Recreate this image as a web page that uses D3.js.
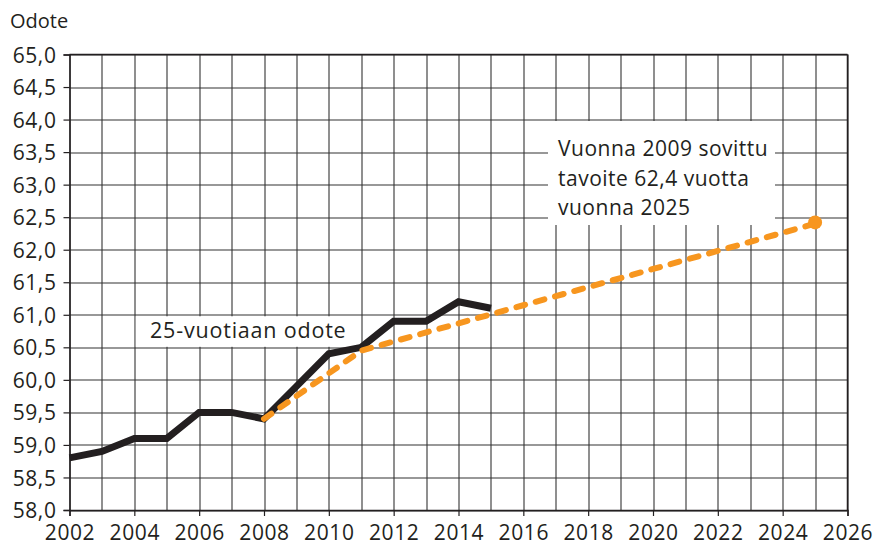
<!DOCTYPE html>
<html>
<head>
<meta charset="utf-8">
<script src="https://cdn.jsdelivr.net/npm/d3@7"></script>
<style>
  body { margin: 0; background: #fff; }
  text { font-family: "Open Sans", sans-serif; fill: #231f20; }
</style>
</head>
<body>
<svg id="chart"></svg>
<script>
// 25-vuotiaan odote (toteutunut)
var years = [2002, 2003, 2004, 2005, 2006, 2007, 2008, 2009, 2010, 2011, 2012, 2013, 2014, 2015];
var odote = [58.8, 58.9, 59.1, 59.1, 59.5, 59.5, 59.4, 59.9, 60.4, 60.5, 60.9, 60.9, 61.2, 61.1];

// tavoiteura
var targetYears = [2008, 2011, 2025];
var targetValues = [59.4, 60.45, 62.4];

var yTicks = d3.range(58, 65.01, 0.5);
var xTicks = d3.range(2002, 2027, 2);
var gridYears = d3.range(2002, 2027, 1);

var svgWidth = 881, svgHeight = 547;
var margin = { top: 54.5, right: 33.5, bottom: 37, left: 69.5 };
var width = svgWidth - margin.left - margin.right;
var height = svgHeight - margin.top - margin.bottom;

var svg = d3.select("#chart")
    .attr("width", svgWidth)
    .attr("height", svgHeight);

var g = svg.append("g")
    .attr("transform", "translate(" + margin.left + "," + margin.top + ")");

var x = d3.scaleLinear().domain([2002, 2026]).range([0, width]);
var y = d3.scaleLinear().domain([58, 65]).range([height, 0]);

var fmt = function(d) { return d3.format(".1f")(d).replace(".", ","); };

// grid
g.append("g").selectAll("line")
    .data(gridYears)
    .enter().append("line")
    .attr("x1", function(d) { return Math.round(x(d)) + 0.5; })
    .attr("x2", function(d) { return Math.round(x(d)) + 0.5; })
    .attr("y1", 0).attr("y2", height)
    .attr("stroke", "#333").attr("stroke-width", 1.1);

g.append("g").selectAll("line")
    .data(yTicks)
    .enter().append("line")
    .attr("x1", 0).attr("x2", width)
    .attr("y1", function(d) { return Math.round(y(d)) + 0.5; })
    .attr("y2", function(d) { return Math.round(y(d)) + 0.5; })
    .attr("stroke", "#333").attr("stroke-width", 1.1);

// label backgrounds (cover the grid)
g.append("rect")
    .attr("x", x(2004) + 1.5).attr("y", y(61) + 1.5)
    .attr("width", 220).attr("height", y(60.5) - y(61) - 2)
    .attr("fill", "#fff");

g.append("rect")
    .attr("x", 548 - margin.left).attr("y", 121 - margin.top)
    .attr("width", 227).attr("height", 104)
    .attr("fill", "#fff");

// axes
var yAxis = g.append("g")
    .call(d3.axisLeft(y).tickValues(yTicks).tickSize(6).tickFormat(fmt));
var xAxis = g.append("g")
    .attr("transform", "translate(0," + height + ")")
    .call(d3.axisBottom(x).tickValues(xTicks).tickSize(6).tickFormat(d3.format("d")));

[yAxis, xAxis].forEach(function(a) {
    a.select(".domain").attr("stroke", "#231f20").attr("stroke-width", 1.5);
    a.selectAll(".tick line").attr("stroke", "#231f20").attr("stroke-width", 1.2);
    a.selectAll("text").attr("font-size", 21).attr("font-family", "Open Sans, sans-serif")
        .attr("fill", "#231f20").style("letter-spacing", "0.6px");
});
yAxis.selectAll("text").attr("x", -13).attr("dy", "0.36em");
xAxis.selectAll("text").attr("y", 13).attr("dy", "0.8em");

// top and right frame
g.append("line").attr("x1", 0).attr("x2", width).attr("y1", 0).attr("y2", 0)
    .attr("stroke", "#231f20").attr("stroke-width", 1.5);
g.append("line").attr("x1", width).attr("x2", width).attr("y1", 0).attr("y2", height)
    .attr("stroke", "#231f20").attr("stroke-width", 1.5);

// odote line
var line = d3.line()
    .x(function(d) { return x(d[0]); })
    .y(function(d) { return y(d[1]); });

g.append("path")
    .datum(d3.zip(years, odote))
    .attr("fill", "none")
    .attr("stroke", "#231f20")
    .attr("stroke-width", 7)
    .attr("stroke-linejoin", "miter")
    .attr("d", line);

// target line
var targetData = d3.zip(targetYears, targetValues);
g.append("path")
    .datum(targetData)
    .attr("fill", "none")
    .attr("stroke", "#f7961f")
    .attr("stroke-width", 6)
    .attr("stroke-dasharray", "9,11")
    .attr("stroke-linecap", "round")
    .attr("d", line);

g.append("circle")
    .attr("cx", x(2025)).attr("cy", y(62.42))
    .attr("r", 7)
    .attr("fill", "#f7961f");

// texts
svg.append("text")
    .attr("x", 10).attr("y", 28)
    .attr("font-size", 20)
    .text("Odote");

g.append("text")
    .attr("x", 150 - margin.left).attr("y", 338 - margin.top)
    .attr("font-size", 21.5)
    .style("letter-spacing", "0.8px")
    .text("25-vuotiaan odote");

var note = ["Vuonna 2009 sovittu", "tavoite 62,4 vuotta", "vuonna 2025"];
g.append("g").selectAll("text")
    .data(note)
    .enter().append("text")
    .attr("x", 558 - margin.left)
    .attr("y", function(d, i) { return 156 - margin.top + i * 29.5; })
    .attr("font-size", 21)
    .style("letter-spacing", "0.5px")
    .text(function(d) { return d; });
</script>
</body>
</html>
